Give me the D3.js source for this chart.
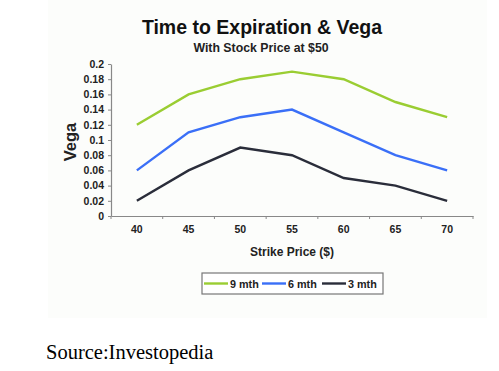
<!DOCTYPE html>
<html>
<head>
<meta charset="utf-8">
<script src="https://cdn.jsdelivr.net/npm/d3@7"></script>
<style>
  body { margin: 0; background: #fff; }
  svg { display: block; }
  .tick text { font-family: Arial, "Liberation Sans", sans-serif; font-weight: bold; font-size: 10.5px; fill: #222; }
</style>
</head>
<body>
<div id="chart"></div>
<script>
const strikes = [40, 45, 50, 55, 60, 65, 70];
const seriesNames = ['9 mth', '6 mth', '3 mth'];
const vega9 = [0.12, 0.16, 0.18, 0.19, 0.18, 0.15, 0.13];
const vega6 = [0.06, 0.11, 0.13, 0.14, 0.11, 0.08, 0.06];
const vega3 = [0.02, 0.06, 0.09, 0.08, 0.05, 0.04, 0.02];
const yTicks = [0, 0.02, 0.04, 0.06, 0.08, 0.1, 0.12, 0.14, 0.16, 0.18, 0.2];
const colors = ['#9acd32', '#3a6ff7', '#2a2d3a'];

const series = [vega9, vega6, vega3].map((v, i) => ({ name: seriesNames[i], values: v, color: colors[i] }));

const width = 499, height = 371;
const font = 'Arial, "Liberation Sans", sans-serif';

const svg = d3.select('#chart').append('svg')
    .attr('width', width)
    .attr('height', height);

// chart panel background
svg.append('rect')
    .attr('x', 48).attr('y', 0)
    .attr('width', 439).attr('height', 318)
    .attr('fill', '#fcfdfb');

const x = d3.scaleBand()
    .domain(strikes)
    .range([111, 473]);

const y = d3.scaleLinear()
    .domain([0, 0.2])
    .range([216, 64]);

// x axis
const xAxis = svg.append('g')
    .attr('transform', `translate(0,${y(0)})`)
    .call(d3.axisBottom(x).tickSize(0).tickPadding(10));
xAxis.select('.domain').attr('stroke', '#888').attr('stroke-width', 1.2);
// category separators
const bounds = strikes.map(s => x(s)).concat([x.range()[1]]);
xAxis.selectAll('line.sep')
    .data(bounds)
    .join('line')
    .attr('class', 'sep')
    .attr('x1', d => d).attr('x2', d => d)
    .attr('y1', 0).attr('y2', 3)
    .attr('stroke', '#888');

// y axis
const yAxis = svg.append('g')
    .attr('transform', `translate(${x.range()[0]},0)`)
    .call(d3.axisLeft(y).tickValues(yTicks).tickSize(3).tickPadding(4).tickSizeOuter(0)
        .tickFormat(d => d3.format('')(+d.toFixed(2))));
yAxis.select('.domain').attr('stroke', '#888').attr('stroke-width', 1.2);
yAxis.selectAll('.tick line').attr('stroke', '#888');

// lines
const line = d3.line()
    .x((d, i) => x(strikes[i]) + x.bandwidth() / 2)
    .y(d => y(d));

svg.append('g')
    .selectAll('path')
    .data(series)
    .join('path')
    .attr('d', d => line(d.values))
    .attr('fill', 'none')
    .attr('stroke', d => d.color)
    .attr('stroke-width', 2.4);

// titles
svg.append('text')
    .attr('x', 262).attr('y', 34)
    .attr('text-anchor', 'middle')
    .style('font-family', font).style('font-weight', 'bold').style('font-size', '19.5px')
    .attr('fill', '#111')
    .text('Time to Expiration & Vega');

svg.append('text')
    .attr('x', 261).attr('y', 52)
    .attr('text-anchor', 'middle')
    .style('font-family', font).style('font-weight', 'bold').style('font-size', '12.3px')
    .attr('fill', '#222')
    .text('With Stock Price at $50');

svg.append('text')
    .attr('transform', `translate(76,${y(0.1) + 2}) rotate(-90)`)
    .attr('text-anchor', 'middle')
    .style('font-family', font).style('font-weight', 'bold').style('font-size', '16.5px')
    .attr('fill', '#222')
    .text('Vega');

svg.append('text')
    .attr('x', 292).attr('y', 256)
    .attr('text-anchor', 'middle')
    .style('font-family', font).style('font-weight', 'bold').style('font-size', '12px')
    .attr('fill', '#222')
    .text('Strike Price ($)');

// legend
const legend = svg.append('g').attr('transform', 'translate(202,273)');
legend.append('rect')
    .attr('width', 181).attr('height', 21)
    .attr('fill', '#fff')
    .attr('stroke', '#777').attr('stroke-width', 1.2);
const legendX = [2, 60, 120];
series.forEach((s, i) => {
    const g = legend.append('g').attr('transform', `translate(${legendX[i]},10.5)`);
    g.append('line')
        .attr('x1', 0).attr('x2', 24)
        .attr('stroke', s.color).attr('stroke-width', 2.4);
    g.append('text')
        .attr('x', 26).attr('y', 4)
        .style('font-family', font).style('font-weight', 'bold').style('font-size', '10.8px')
        .attr('fill', '#222')
        .text(s.name);
});

// source note
svg.append('text')
    .attr('x', 46).attr('y', 359)
    .style('font-family', '"Liberation Serif", "Times New Roman", serif').style('font-size', '20.5px')
    .attr('fill', '#000')
    .text('Source:Investopedia');
</script>
</body>
</html>
